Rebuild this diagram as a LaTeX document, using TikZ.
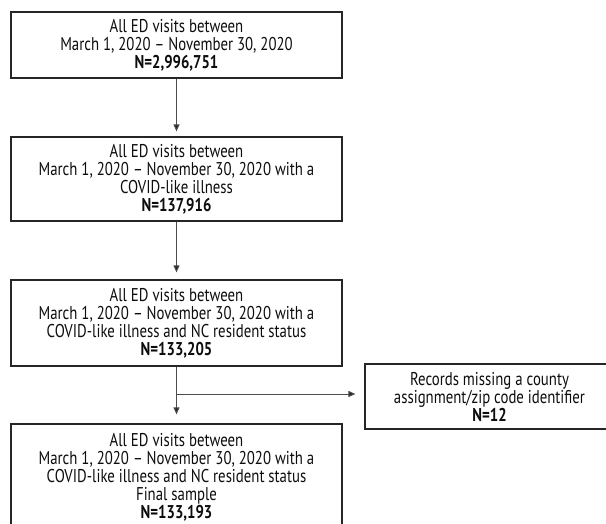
\documentclass[tikz,border=0pt]{standalone}
\usepackage{fontspec}
\setmainfont{PT Sans}[FakeStretch=0.8]
\usetikzlibrary{arrows.meta,calc}
\begin{document}
\begin{tikzpicture}[x=1pt,y=-1pt,
  box/.style={draw=black!85, line width=1.2pt, align=center, inner sep=0pt,
    font=\fontsize{18.5}{18}\selectfont, text=black!95},
  conn/.style={draw=black!70, line width=1pt, -{Triangle[length=7pt,width=6pt,fill=black!85]}}]
\useasboundingbox (0,0) rectangle (606,523);
\clip (0,0) rectangle (606,523);
\node[box, minimum width=331, minimum height=66] (b1) at (176.5,45)
  {All ED visits between\\March 1, 2020 – November 30, 2020\\\textbf{N=2,996,751}};
\node[box, minimum width=331, minimum height=84] (b2) at (176.5,179)
  {All ED visits between\\March 1, 2020 – November 30, 2020 with a\\COVID-like illness\\\textbf{N=137,916}};
\node[box, minimum width=331, minimum height=86] (b3) at (176.5,323)
  {All ED visits between\\March 1, 2020 – November 30, 2020 with a\\COVID-like illness and NC resident status\\\textbf{N=133,205}};
\node[box, minimum width=331, minimum height=106] (b4) at (176.5,477)
  {All ED visits between\\March 1, 2020 – November 30, 2020 with a\\COVID-like illness and NC resident status\\Final sample\\\textbf{N=133,193}};
\node[box, minimum width=249, minimum height=65] (s) at (489.5,396.5)
  {Records missing a county\\assignment/zip code identifier\\\textbf{N=12}};
\coordinate (j) at (b3.south |- 0,394);
\draw[conn, shorten >=5pt] (b1.south) -- (b2.north);
\draw[conn, shorten >=7pt] (b2.south) -- (b3.north);
\draw[conn, shorten >=9pt] (b3.south) -- (b4.north);
\draw[conn, shorten >=9pt] (j) -- (j -| s.west);
\end{tikzpicture}
\end{document}
